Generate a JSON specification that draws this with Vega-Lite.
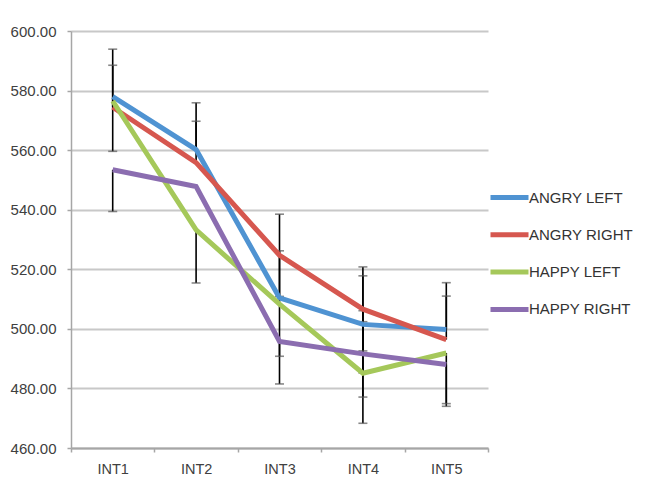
{
  "$schema": "https://vega.github.io/schema/vega-lite/v6.json",
  "autosize": "none",
  "width": 417,
  "height": 417,
  "padding": {"left": 71, "top": 31, "right": 164, "bottom": 44},
  "background": "white",
  "config": {
    "view": {"stroke": null},
    "font": "Liberation Sans"
  },
  "data": {
    "values": [
      {"cat": "INT1", "series": "ANGRY LEFT", "value": 578.0, "lo": 559.6, "hi": 593.9},
      {"cat": "INT1", "series": "ANGRY RIGHT", "value": 574.4, "lo": 574.4, "hi": 588.5},
      {"cat": "INT1", "series": "HAPPY LEFT", "value": 576.5, "lo": 576.5, "hi": 576.5},
      {"cat": "INT1", "series": "HAPPY RIGHT", "value": 553.4, "lo": 539.4, "hi": 553.4},
      {"cat": "INT2", "series": "ANGRY LEFT", "value": 560.2, "lo": 560.2, "hi": 575.9},
      {"cat": "INT2", "series": "ANGRY RIGHT", "value": 555.8, "lo": 555.8, "hi": 569.7},
      {"cat": "INT2", "series": "HAPPY LEFT", "value": 533.2, "lo": 515.4, "hi": 533.2},
      {"cat": "INT2", "series": "HAPPY RIGHT", "value": 547.8, "lo": 547.8, "hi": 547.8},
      {"cat": "INT3", "series": "ANGRY LEFT", "value": 510.4, "lo": 510.4, "hi": 510.4},
      {"cat": "INT3", "series": "ANGRY RIGHT", "value": 524.7, "lo": 510.9, "hi": 538.5},
      {"cat": "INT3", "series": "HAPPY LEFT", "value": 508.3, "lo": 490.8, "hi": 526.2},
      {"cat": "INT3", "series": "HAPPY RIGHT", "value": 495.8, "lo": 481.5, "hi": 495.8},
      {"cat": "INT4", "series": "ANGRY LEFT", "value": 501.5, "lo": 485.2, "hi": 517.8},
      {"cat": "INT4", "series": "ANGRY RIGHT", "value": 506.6, "lo": 492.6, "hi": 520.8},
      {"cat": "INT4", "series": "HAPPY LEFT", "value": 485.1, "lo": 468.3, "hi": 502.4},
      {"cat": "INT4", "series": "HAPPY RIGHT", "value": 491.6, "lo": 477.1, "hi": 506.1},
      {"cat": "INT5", "series": "ANGRY LEFT", "value": 499.8, "lo": 499.8, "hi": 515.5},
      {"cat": "INT5", "series": "ANGRY RIGHT", "value": 496.4, "lo": 496.4, "hi": 511.0},
      {"cat": "INT5", "series": "HAPPY LEFT", "value": 491.9, "lo": 474.9, "hi": 491.9},
      {"cat": "INT5", "series": "HAPPY RIGHT", "value": 488.0, "lo": 474.0, "hi": 488.0}
    ]
  },
  "encoding": {
    "x": {
      "field": "cat", "type": "nominal",
      "scale": {"type": "band", "paddingInner": 0, "paddingOuter": 0},
      "axis": {
        "title": null, "labelAngle": 0, "grid": false,
        "tickBand": "extent", "tickSize": 4, "tickColor": "#a6a6a6", "tickWidth": 1.5,
        "domainColor": "#a6a6a6", "domainWidth": 2,
        "labelFontSize": 14.5, "labelColor": "#404040", "labelPadding": 10,
        "labelFont": "Liberation Sans"
      }
    }
  },
  "layer": [
    {
      "transform": [{"filter": "datum.hi > datum.lo"}],
      "mark": {"type": "rule", "color": "black", "strokeWidth": 1.6},
      "encoding": {
        "y": {"field": "lo", "type": "quantitative"},
        "y2": {"field": "hi"}
      }
    },
    {
      "transform": [{"filter": "datum.lo < datum.value"}],
      "mark": {"type": "tick", "color": "#555555", "size": 9, "thickness": 1.6},
      "encoding": {"y": {"field": "lo", "type": "quantitative"}}
    },
    {
      "transform": [{"filter": "datum.hi > datum.value"}],
      "mark": {"type": "tick", "color": "#555555", "size": 9, "thickness": 1.6},
      "encoding": {"y": {"field": "hi", "type": "quantitative"}}
    },
    {
      "mark": {"type": "line", "strokeWidth": 5, "strokeJoin": "miter"},
      "encoding": {
        "y": {
          "field": "value", "type": "quantitative",
          "scale": {"domain": [460, 600], "nice": false, "zero": false},
          "axis": {
            "title": null,
            "values": [460, 480, 500, 520, 540, 560, 580, 600],
            "format": ".2f",
            "grid": true, "gridColor": "#c8c8c8", "gridWidth": 2,
            "domainColor": "#a6a6a6", "domainWidth": 1.5,
            "tickColor": "#a6a6a6", "tickSize": 4, "tickWidth": 1.5,
            "labelFontSize": 15, "labelColor": "#404040", "labelPadding": 11,
            "labelFont": "Liberation Sans"
          }
        },
        "color": {
          "field": "series", "type": "nominal",
          "scale": {
            "domain": ["ANGRY LEFT", "ANGRY RIGHT", "HAPPY LEFT", "HAPPY RIGHT"],
            "range": ["#4f93d2", "#d6574f", "#a5c85a", "#8b6db0"]
          },
          "legend": {
            "title": null, "orient": "none", "legendX": 417, "legendY": 145,
            "symbolType": "stroke", "symbolSize": 1444, "symbolStrokeWidth": 5,
            "labelFontSize": 15, "labelColor": "#333333", "labelOffset": -2,
            "labelFont": "Liberation Sans", "rowPadding": 5.3
          }
        }
      }
    }
  ]
}
